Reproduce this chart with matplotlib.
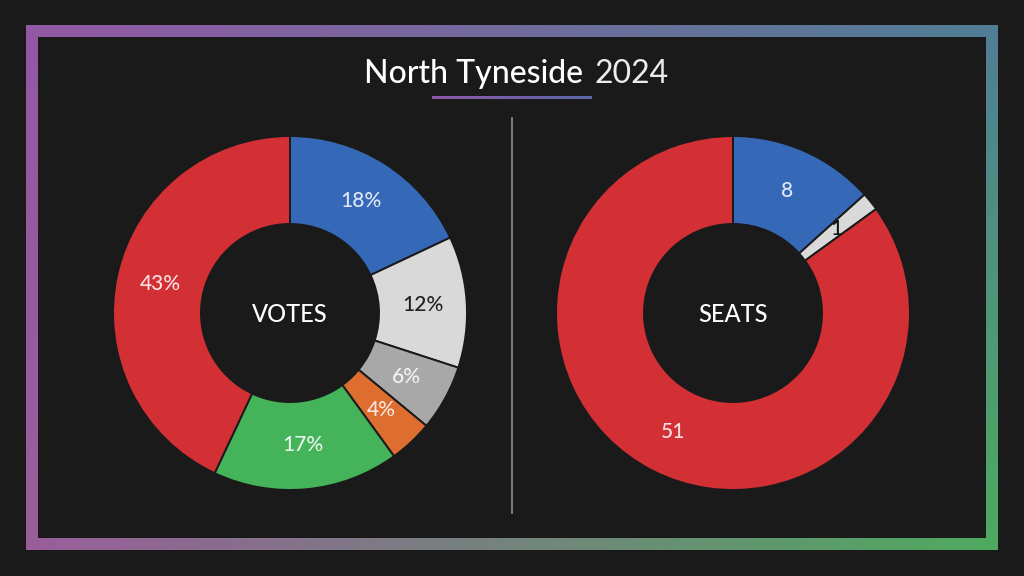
import numpy as np
import matplotlib.pyplot as plt
from matplotlib.path import Path
from matplotlib.patches import PathPatch
from matplotlib.colors import LinearSegmentedColormap, to_rgb

plt.rcParams['font.family'] = ['Lato', 'DejaVu Sans']

title_main = "North Tyneside"
title_year = "2024"

vote_labels = ["18%", "12%", "6%", "4%", "17%", "43%"]
vote_values = [18, 12, 6, 4, 17, 43]
vote_colors = ['#3569b8', '#d9d9d9', '#a8a8a8', '#de6d30', '#45b35a', '#d33035']
vote_text = ['#dfe7f7', '#222222', '#f2f2f2', '#f9e6db', '#e8f5ea', '#f9e1e1']

seat_labels = ["8", "1", "51"]
seat_values = [8, 1, 51]
seat_colors = ['#3569b8', '#d9d9d9', '#d33035']
seat_text = ['#dfe7f7', '#111111', '#f9e1e1']

# frame corner colours: top-left, top-right, bottom-left, bottom-right
corner_tl, corner_tr = '#9457a6', '#4e7d98'
corner_bl, corner_br = '#9c5c9c', '#4caf5a'

bg = '#1a1a1a'
W, H = 1024, 576

fig = plt.figure(figsize=(10.24, 5.76), dpi=100, facecolor=bg)
ax = fig.add_axes([0, 0, 1, 1])
ax.set_facecolor(bg)

# bilinear gradient frame
u = np.linspace(0, 1, 400)[None, :, None]
v = np.linspace(0, 1, 240)[:, None, None]
tl, tr, bl, br = (np.array(to_rgb(c)) for c in (corner_tl, corner_tr, corner_bl, corner_br))
top = tl * (1 - u) + tr * u
bot = bl * (1 - u) + br * u
grad = top * (1 - v) + bot * v   # row 0 = top of picture
im = ax.imshow(grad, extent=[0, W, 0, H], origin='upper', zorder=1, aspect='auto')


def rect(x0, y0, x1, y1, ccw):
    pts = [(x0, H - y0), (x1, H - y0), (x1, H - y1), (x0, H - y1), (x0, H - y0)]
    if ccw:
        pts = pts[::-1]
    return pts


verts = rect(26, 25, 998, 550, False) + rect(38, 37, 986, 538, True)
codes = [Path.MOVETO, Path.LINETO, Path.LINETO, Path.LINETO, Path.CLOSEPOLY] * 2
frame = PathPatch(Path(verts, codes), facecolor='none', edgecolor='none')
ax.add_patch(frame)
im.set_clip_path(frame)

# title underline
ucmap = LinearSegmentedColormap.from_list('ul', ['#8e58a8', '#5a68a8'])
ax.imshow(np.linspace(0, 1, 100).reshape(1, -1), cmap=ucmap, extent=[432, 592, H - 99.5, H - 96.5],
          aspect='auto', zorder=2)

ax.text(583, H - 83, title_main, color='white', fontsize=23, fontweight='medium', ha='right', va='baseline')
ax.text(594, H - 83, title_year, color='#ececec', fontsize=23, fontweight='normal', ha='left', va='baseline')

# divider
ax.plot([512, 512], [H - 118, H - 513], color='#8c7f9a', lw=1.3, zorder=2)

R = 177
hole = 89
lab_d = (R + hole) / 2 / R


def donut(center, values, labels, colors, tcolors, name):
    wedges, texts = ax.pie(values, labels=labels, colors=colors, startangle=90, counterclock=False,
                           radius=R, center=center, labeldistance=lab_d, frame=True,
                           wedgeprops=dict(width=R - hole, edgecolor=bg, linewidth=1.4),
                           textprops=dict(fontsize=15, fontweight='medium'))
    for w, t, c in zip(wedges, texts, tcolors):
        t.set_color(c)
        t.set_ha('center')
        t.set_va('center')
        t.set_clip_on(True)
        t.set_clip_path(w)
        t.set_zorder(4)
    ax.text(center[0], center[1] - 2, name, color='white', fontsize=17, fontweight='medium',
            ha='center', va='center', zorder=4)
    return wedges


donut((290, H - 313), vote_values, vote_labels, vote_colors, vote_text, "VOTES")
donut((733, H - 313), seat_values, seat_labels, seat_colors, seat_text, "SEATS")

ax.set_xlim(0, W)
ax.set_ylim(0, H)
ax.set_aspect('equal')
ax.axis('off')

fig.savefig('out.png', dpi=100, facecolor=bg)
